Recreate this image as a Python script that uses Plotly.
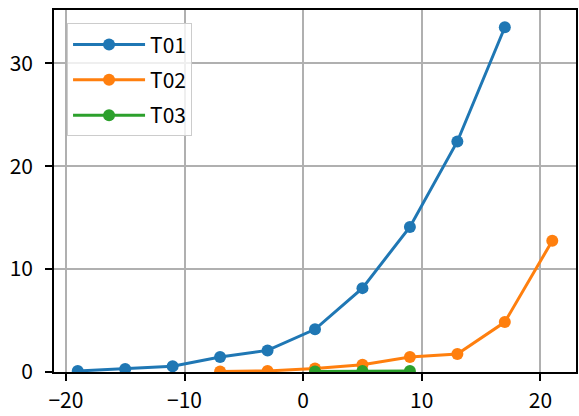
import plotly.graph_objects as go

t01_x = [-19, -15, -11, -7, -3, 1, 5, 9, 13, 17]
t01_y = [0.1, 0.3, 0.55, 1.45, 2.1, 4.15, 8.15, 14.1, 22.4, 33.5]
t02_x = [-7, -3, 1, 5, 9, 13, 17, 21]
t02_y = [0.05, 0.1, 0.35, 0.7, 1.45, 1.75, 4.85, 12.75]
t03_x = [1, 5, 9]
t03_y = [0.05, 0.1, 0.1]

names = ["T01", "T02", "T03"]
colors = ["#1f77b4", "#ff7f0e", "#2ca02c"]
series = [(t01_x, t01_y), (t02_x, t02_y), (t03_x, t03_y)]

FONT = "Noto Sans CJK JP"

fig = go.Figure()
for name, color, (xs, ys) in zip(names, colors, series):
    fig.add_trace(go.Scatter(
        x=xs, y=ys, name=name, mode="lines+markers",
        line=dict(color=color, width=3),
        marker=dict(color=color, size=12),
        legendgroup=name,
    ))

axis_common = dict(
    showgrid=True, gridcolor="#b0b0b0", gridwidth=1.6,
    showline=True, linecolor="black", linewidth=1.6, mirror=True,
    ticks="outside", ticklen=7, tickwidth=1.6, tickcolor="black",
    zeroline=False,
    tickfont=dict(family=FONT, size=21, color="black"),
)

fig.update_layout(
    width=579, height=416,
    margin=dict(l=54, r=1, t=10, b=44),
    paper_bgcolor="white", plot_bgcolor="white",
    font=dict(family=FONT, size=20, color="black"),
    xaxis=dict(range=[-21, 23], tickvals=[-20, -10, 0, 10, 20],
               ticktext=["\u221220", "\u221210", "0", "10", "20"],
               ticklabelstandoff=2, **axis_common),
    yaxis=dict(range=[0, 35.175], tickvals=[0, 10, 20, 30],
               ticklabelstandoff=8, **axis_common),
    legend=dict(
        x=0.025, y=0.963, xanchor="left", yanchor="top",
        bgcolor="rgba(255,255,255,0.8)", bordercolor="#cccccc", borderwidth=1,
        font=dict(family=FONT, size=21, color="black"),
        tracegroupgap=5, itemwidth=72,
    ),
    showlegend=True,
)

fig.write_html("out.html", config={"displayModeBar": False},
               post_script="document.body.style.margin='0';document.body.style.overflow='hidden';")
